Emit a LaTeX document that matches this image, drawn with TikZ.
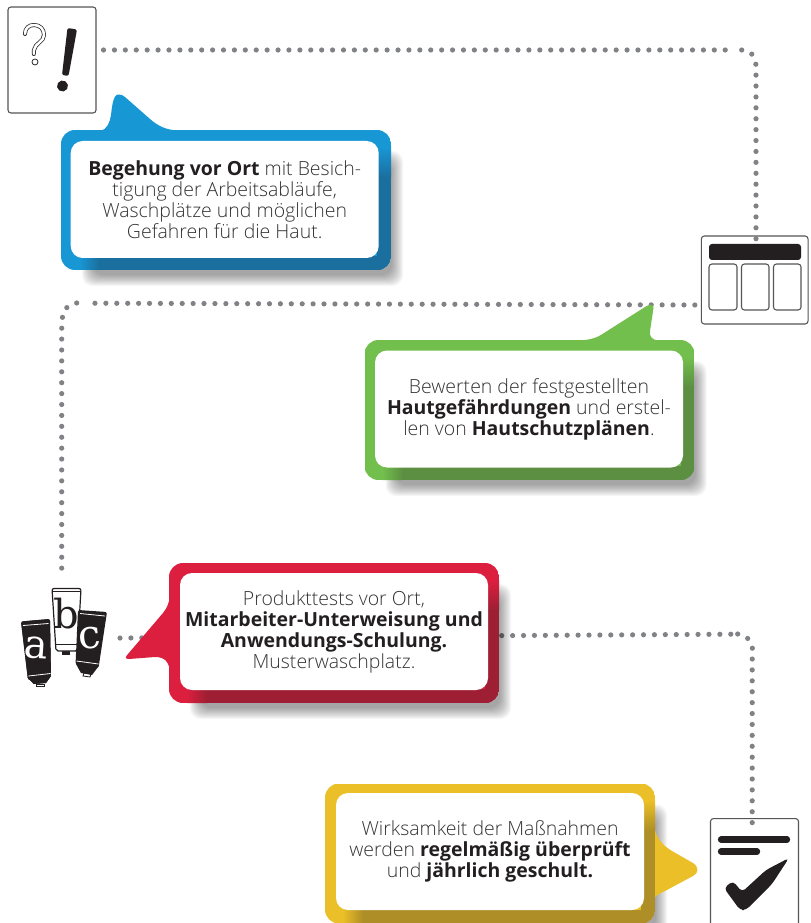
\documentclass[tikz,border=0pt]{standalone}
\usepackage{fontspec}
\setmainfont{Open Sans Light}[BoldFont={Open Sans Bold}]
\newfontfamily\slab{DejaVu Serif}
\definecolor{dotgray}{HTML}{808285}
\definecolor{ink}{HTML}{231F20}
\definecolor{lighttext}{HTML}{333333}
\definecolor{edgegray}{HTML}{555555}
\definecolor{blueM}{HTML}{1897D5}\definecolor{blueD}{HTML}{1B6F9F}
\definecolor{greenM}{HTML}{72BF4D}\definecolor{greenD}{HTML}{5C8F41}
\definecolor{redM}{HTML}{DC1F3F}\definecolor{redD}{HTML}{9E1F33}
\definecolor{yellowM}{HTML}{EBBF27}\definecolor{yellowD}{HTML}{AE8E26}
\tikzset{
  dotline/.style={draw=dotgray,line width=3.9pt,line cap=round,dash pattern=on 0pt off 8.18pt},
  iconbox/.style={draw=edgegray,fill=white,line width=0.8pt,rounded corners=2.2pt},
  cell/.style={draw=edgegray,fill=white,line width=0.8pt,rounded corners=2.2pt},
  inkfill/.style={fill=ink,draw=none},
  whitebox/.style={fill=white,rounded corners=9pt,minimum width=231pt,minimum height=87.75pt,inner sep=0pt,align=center,text=lighttext,
    font=\fontsize{14.6}{15.75}\selectfont},
  tubeletter/.style={inner sep=0pt,font=\slab\fontsize{30}{30}\selectfont},
  seam/.style={draw=white,line width=0.6pt},
}
\newcommand{\hl}[1]{\textcolor{ink}{\textbf{#1}}}
% x1, y1, main colour, dark colour, tail path
\newcommand{\speechbg}[5]{%
  \pgfmathsetmacro{\xa}{#1}\pgfmathsetmacro{\ya}{#2}
  \pgfmathsetmacro{\xb}{#1+330}\pgfmathsetmacro{\yb}{#2+140}
  \foreach \k in {0,1,...,11}{
    \fill[black,opacity=0.035,rounded corners=8pt]
      (\xa+32-\k,\ya+32-\k) rectangle (\xb+1+\k,\yb+5+\k);
  }
  \fill[#3] #5;
  \begin{scope}
    \clip[rounded corners=10.5pt] (\xa,\ya) rectangle (\xb,\yb);
    \fill[#3] (\xa,\ya) rectangle (\xb,\yb);
    \shade[top color=#3,bottom color=#4] (\xb-14,\ya+17) rectangle (\xb,\ya+47);
    \fill[#4] (\xb-14,\ya+47) rectangle (\xb,\yb);
    \shade[left color=#3,right color=#4] (\xa+18,\yb-14) rectangle (\xa+38,\yb);
    \fill[#4] (\xa+38,\yb-14) rectangle (\xb,\yb);
  \end{scope}
}
\begin{document}
\begin{tikzpicture}[x=0.75pt,y=-0.75pt]
\useasboundingbox (0,0) rectangle (810,923);
\clip (0,0) rectangle (810,923);

% icon boxes
\node[iconbox,minimum width=66pt,minimum height=79.5pt,inner sep=0pt] (qbox) at (52,60) {};
\node[iconbox,minimum width=80pt,minimum height=66pt,inner sep=0pt] (tablebox) at (754.7,280) {};
\node[iconbox,minimum width=66pt,minimum height=90pt,inner sep=0pt,anchor=north] (checkbox) at (754.5,818) {};

% connectors
\coordinate (tubeend) at (120,638);
\coordinate (tubetop) at (61.7,576);
\draw[dotline] ([shift={(7,-10)}]qbox.east) -- (735.4,50) (741.7,50) -- (751.7,54) -- (756,64.7) -- ([yshift=-4]tablebox.north -| 756,0);
\draw[dotline] ([shift={(-6,25)}]tablebox.west) -- (87.5,303.2) (76.7,303) -- (66,308) -- (62,318.6) -- (61.7,329.6) -- (tubetop);
\draw[dotline] (tubeend) -- (731,634.2) (737.7,634) -- (748,638.6) -- (752.7,649) -- (752.2,660) -- ([yshift=-9]checkbox.north -| 752.2,0);

% question / exclamation mark
\draw[draw=ink,line width=0.55pt,double=white,double distance=1.9pt,line cap=round]
  (25,34) .. controls (25,28) and (29,25) .. (34,25) .. controls (40,25) and (44,29) .. (44,35)
  .. controls (44,42) and (35,43) .. (34,50) -- (33.8,54);
\draw[draw=ink,line width=0.55pt,fill=white] (35,62) circle[radius=3];
\fill[ink,rounded corners=1.5pt] (67.5,28) -- (77,29.5) -- (68.5,76) -- (62,75) -- cycle;
\fill[ink,rotate around={12:(62.5,86)}] (62.5,86) ellipse[x radius=5.5,y radius=5.5];

% table icon
\fill[ink,rounded corners=2.2pt] (709,244) rectangle (801,260);
\draw[cell] (709,264) rectangle (737,310);
\draw[cell] (741.5,264) rectangle (769,310);
\draw[cell] (773.5,264) rectangle (801,310);

% check icon
\draw[ink,line width=4.7pt,line cap=round] (721,839.5) -- (787,839.5);
\draw[ink,line width=4.7pt,line cap=round] (721,851.5) -- (757,851.5);
\fill[ink,rounded corners=3pt] (724,888) -- (740,910) -- (746,910) -- (772,884) -- (789,858) -- (766,870) -- (742,892) -- (733,881) -- cycle;

% tubes
\path[inkfill,rounded corners=1.5pt] (21,621.5) -- (50,619) -- (51,677) -- (28,680) -- cycle;
\fill[ink] (29,679) -- (51,676) -- (46,683) -- (34,684) -- cycle;
\draw[ink,line width=0.6pt,fill=white] (36,684) rectangle (44,686.5);
\fill[ink] (29,679) -- (51,676) -- (46,683) -- (34,684) -- cycle;
\fill[ink,rounded corners=1.5pt] (21,621.5) -- (50,619) -- (51,677) -- (28,680) -- cycle;
\draw[seam] (23,625.5) -- (48.5,623.5);
\draw[seam] (28.5,676) -- (50.5,673.5);
\node[tubeletter,text=white,rotate=-4] (tubea) at (36.5,648) {a};

\fill[ink] (62,651) rectangle (70,655);
\draw[ink,line width=0.9pt,fill=white,rounded corners=1.5pt] (52,588.5) -- (81,588.5) -- (77.5,651) -- (56,651) -- cycle;
\draw[ink,line width=0.6pt] (55,644) -- (78,644);
\draw[ink,line width=0.6pt] (52.5,591.5) -- (80.5,591.5);
\node[tubeletter,text=ink] (tubeb) at (66.3,614) {b};

\draw[ink,line width=0.6pt,fill=white] (84,673) -- (91,674) -- (90,677) -- (83,676) -- cycle;
\fill[ink] (76,664) -- (98,667) -- (92,675) -- (81,673) -- cycle;
\fill[ink,rounded corners=1.5pt] (78,610) -- (107,612) -- (98.5,668) -- (75.5,665) -- cycle;
\draw[seam] (80,613.5) -- (105,616);
\draw[seam] (76.5,661) -- (98.5,664);
\node[tubeletter,text=white,rotate=5] (tubec) at (90,638) {c};

% speech bubbles
\speechbg{61}{130}{blueM}{blueD}{(100,131) .. controls (107,130) and (110,122) .. (111,115) .. controls (112,107) and (113,95) .. (118,94.5) .. controls (121,94.5) and (123,95) .. (125,97) -- (150,119) .. controls (158,126) and (166,130) .. (178,130.5) -- cycle}
\node[whitebox] (visit) at (224.7,199.5) {\hl{Begehung vor Ort} mit Besich-\\tigung der Arbeitsabläufe,\\Waschplätze und möglichen\\Gefahren für die Haut.};

\speechbg{364.5}{340}{greenM}{greenD}{(578,340.5) .. controls (590,340) and (597,338) .. (604,333) -- (645,307) .. controls (649,304) and (654,304) .. (653.5,308) -- (650,331) .. controls (649,336) and (652,340) .. (658,340.5) -- cycle}
\node[whitebox] (rate) at (529,409) {Bewerten der festgestellten\\\hl{Hautgefährdungen} und erstel-\\len von \hl{Hautschutzplänen}.};

\speechbg{169}{563}{redM}{redD}{(170,596) .. controls (169,603) and (167,608) .. (163,613) -- (128,654) .. controls (125,657) and (125,659) .. (129,659) -- (155,657) .. controls (165,657) and (169,662) .. (170,672) -- cycle}
\node[whitebox] (test) at (334,631.5) {Produkttests vor Ort,\\\hl{Mitarbeiter-Unterweisung und}\\\hl{Anwendungs-Schulung.}\\Musterwaschplatz.};

\speechbg{325}{783.5}{yellowM}{yellowD}{(654,826) .. controls (656,838) and (662,845) .. (672,851) -- (693,863) .. controls (699,867) and (699,873) .. (693,876) -- (665,891) .. controls (660,893) and (657,895) .. (654,898) -- cycle}
\node[whitebox] (review) at (490,851.5) {Wirksamkeit der Maßnahmen\\werden \hl{regelmäßig überprüft}\\und \hl{jährlich geschult.}};
\end{tikzpicture}
\end{document}
